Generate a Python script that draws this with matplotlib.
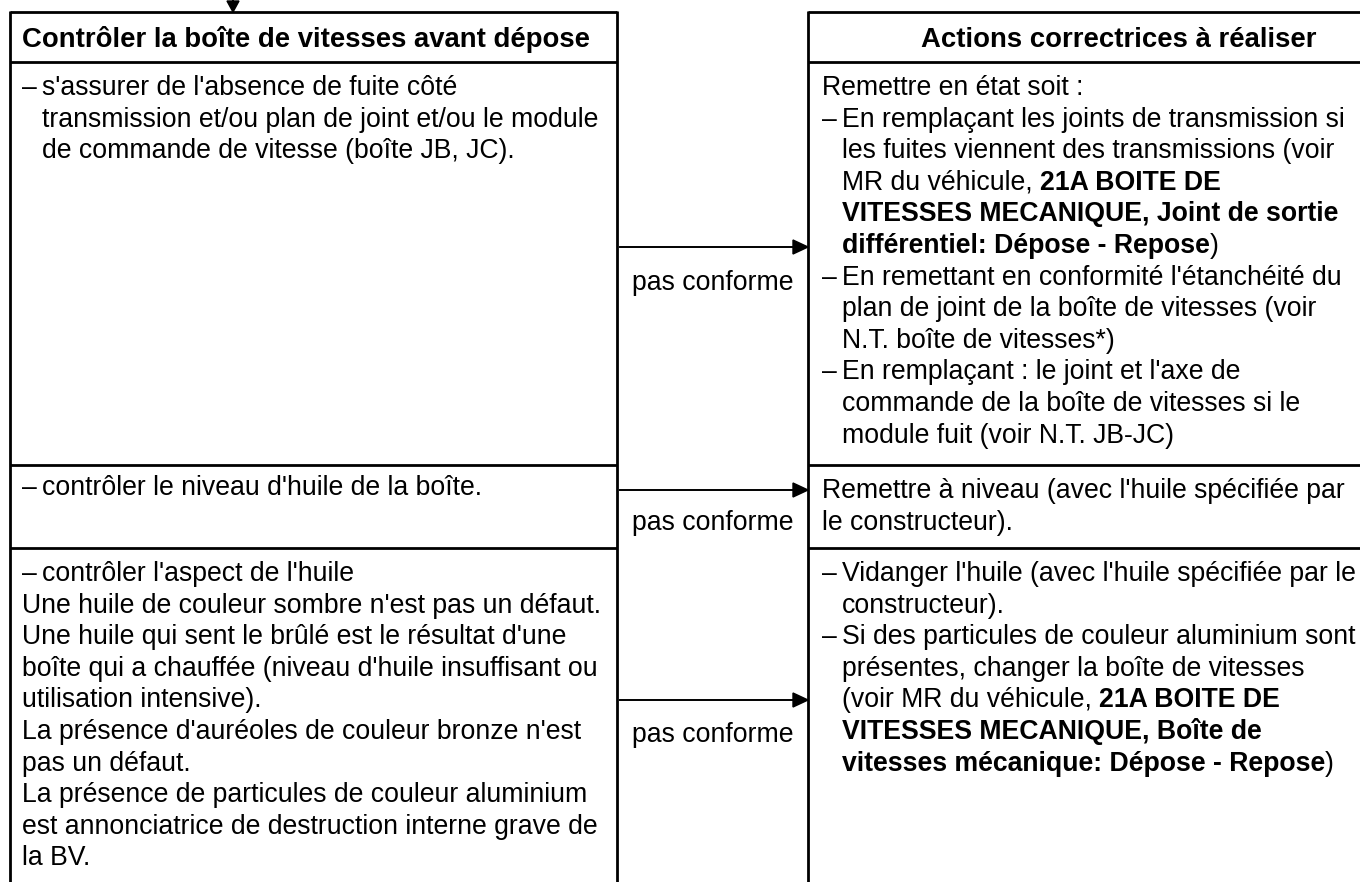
import matplotlib
matplotlib.use('Agg')
import matplotlib.pyplot as plt
from matplotlib.patches import Polygon

# ---------------- content ----------------
left_header = "Contrôler la boîte de vitesses avant dépose"
right_header = "Actions correctrices à réaliser"
arrow_label = "pas conforme"

left_rows = [
    [("dash", [("s'assurer de l'absence de fuite côté", False)]),
     ("cont", [("transmission et/ou plan de joint et/ou le module", False)]),
     ("cont", [("de commande de vitesse (boîte JB, JC).", False)])],
    [("dash", [("contrôler le niveau d'huile de la boîte.", False)])],
    [("dash", [("contrôler l'aspect de l'huile", False)]),
     ("flat", [("Une huile de couleur sombre n'est pas un défaut.", False)]),
     ("flat", [("Une huile qui sent le brûlé est le résultat d'une", False)]),
     ("flat", [("boîte qui a chauffée (niveau d'huile insuffisant ou", False)]),
     ("flat", [("utilisation intensive).", False)]),
     ("flat", [("La présence d'auréoles de couleur bronze n'est", False)]),
     ("flat", [("pas un défaut.", False)]),
     ("flat", [("La présence de particules de couleur aluminium", False)]),
     ("flat", [("est annonciatrice de destruction interne grave de", False)]),
     ("flat", [("la BV.", False)])],
]

right_rows = [
    [("flat", [("Remettre en état soit :", False)]),
     ("dash", [("En remplaçant les joints de transmission si", False)]),
     ("cont", [("les fuites viennent des transmissions (voir", False)]),
     ("cont", [("MR du véhicule, ", False), ("21A BOITE DE", True)]),
     ("cont", [("VITESSES MECANIQUE, Joint de sortie", True)]),
     ("cont", [("différentiel: Dépose - Repose", True), (")", False)]),
     ("dash", [("En remettant en conformité l'étanchéité du", False)]),
     ("cont", [("plan de joint de la boîte de vitesses (voir", False)]),
     ("cont", [("N.T. boîte de vitesses*)", False)]),
     ("dash", [("En remplaçant : le joint et l'axe de", False)]),
     ("cont", [("commande de la boîte de vitesses si le", False)]),
     ("cont", [("module fuit (voir N.T. JB-JC)", False)])],
    [("flat", [("Remettre à niveau (avec l'huile spécifiée par", False)]),
     ("flat", [("le constructeur).", False)])],
    [("dash", [("Vidanger l'huile (avec l'huile spécifiée par le", False)]),
     ("cont", [("constructeur).", False)]),
     ("dash", [("Si des particules de couleur aluminium sont", False)]),
     ("cont", [("présentes, changer la boîte de vitesses", False)]),
     ("cont", [("(voir MR du véhicule, ", False), ("21A BOITE DE", True)]),
     ("cont", [("VITESSES MECANIQUE, Boîte de", True)]),
     ("cont", [("vitesses mécanique: Dépose - Repose", True), (")", False)])],
]

# ---------------- layout ----------------
W, H = 1360, 882
fig = plt.figure(figsize=(13.6, 8.82), dpi=100)
ax = fig.add_axes([0, 0, 1, 1])
ax.set_xlim(0, W)
ax.set_ylim(H, 0)
ax.axis('off')
renderer = fig.canvas.get_renderer()

FONT = ['Liberation Sans', 'DejaVu Sans']
FS = 19.2
FS_HEAD = 19.8
LS = 31.6
LW = 2.0

xL0, xL1 = 10, 617
xR0, xR1 = 808, 1362
y_top, y_head = 12, 62
row_tops = [62, 465, 548]
left_offsets = [33, 30, 33]
right_offsets = [33, 33, 33]
arrow_y = [247, 490, 700]
label_y = [290, 530, 742]


def text_w(s, bold):
    t = ax.text(0, 0, s, fontsize=FS, family=FONT,
                fontweight='bold' if bold else 'normal')
    w = t.get_window_extent(renderer).width
    t.remove()
    return w


space_w = {b: text_w("a a", b) - text_w("aa", b) for b in (False, True)}


def draw_runs(x, y, runs):
    for txt, bold in runs:
        ax.text(x, y, txt, fontsize=FS, family=FONT, color='black',
                fontweight='bold' if bold else 'normal',
                va='baseline', ha='left')
        core = txt.rstrip(' ')
        x += text_w(core, bold) + space_w[bold] * (len(txt) - len(core))


def draw_column(rows, x0, offsets):
    for top, off, lines in zip(row_tops, offsets, rows):
        y = top + off
        for kind, runs in lines:
            if kind == 'dash':
                ax.text(x0, y, "–", fontsize=FS, family=FONT,
                        va='baseline', ha='left')
                draw_runs(x0 + 20, y, runs)
            elif kind == 'cont':
                draw_runs(x0 + 20, y, runs)
            else:
                draw_runs(x0, y, runs)
            y += LS


# borders
k = dict(color='black', lw=LW, solid_capstyle='butt')
ax.plot([xL0, xL1], [y_top, y_top], **k)
ax.plot([xR0, xR1], [y_top, y_top], **k)
for yy in row_tops:
    ax.plot([xL0, xL1], [yy, yy], **k)
    ax.plot([xR0, xR1], [yy, yy], **k)
for xx in (xL0, xL1, xR0):
    ax.plot([xx, xx], [y_top - 1, H + 2], **k)

# headers
ax.text(22, 47, left_header, fontsize=FS_HEAD, family=FONT, fontweight='bold',
        ha='left', va='baseline')
ax.text(1119, 47, right_header, fontsize=FS_HEAD, family=FONT,
        fontweight='bold', ha='center', va='baseline')

# body text
draw_column(left_rows, 22, left_offsets)
draw_column(right_rows, 822, right_offsets)

# arrows
for ay, ly in zip(arrow_y, label_y):
    ax.plot([xL1 + 3, xR0 - 12], [ay, ay], color='black', lw=1.4)
    ax.add_patch(Polygon([[xR0 - 15, ay - 7], [xR0, ay], [xR0 - 15, ay + 7]],
                         closed=True, color='black'))
    ax.text((xL1 + xR0) / 2, ly, arrow_label, fontsize=FS, family=FONT,
            ha='center', va='baseline')

# incoming arrow on top
tx = 233
ax.plot([tx, tx], [0, 4], color='black', lw=1.4)
ax.add_patch(Polygon([[tx - 6, 1], [tx + 6, 1], [tx, y_top]], closed=True,
                     color='black'))

fig.savefig('out.png', dpi=100)
